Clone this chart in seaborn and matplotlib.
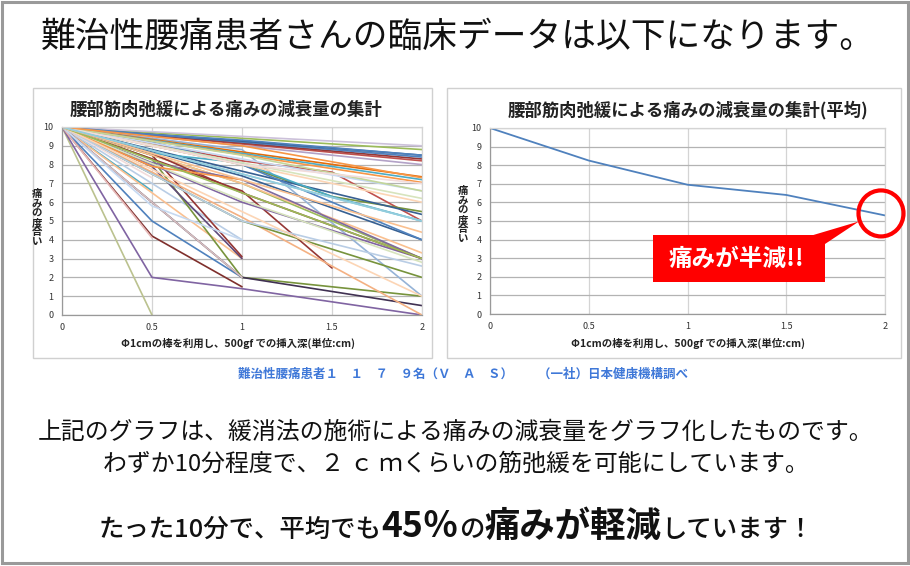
import numpy as np
import pandas as pd
import matplotlib
matplotlib.use("Agg")
import matplotlib.pyplot as plt
import seaborn as sns
from matplotlib.transforms import Affine2D
from matplotlib.patches import Rectangle, Polygon, Ellipse

N = np.nan

# ---------------- data ----------------
depth_cm = [0, 0.5, 1, 1.5, 2]
y_ticks = [0, 1, 2, 3, 4, 5, 6, 7, 8, 9, 10]
x_ticks = [0, 0.5, 1, 1.5, 2]

steep_values = [
    [10, 0, N, N, N],
    [10, 2, 1.4, N, 0],
    [10, 4.2, 1.5, N, N],
    [10, 5, 2, N, N],
    [10, 4.1, N, N, N],
    [10, 6.6, N, N, N],
    [10, 6.5, 3, N, N],
    [10, 7, 4, N, N],
    [10, 8.3, 2, N, 1],
    [10, 7.9, 3, N, N],
    [10, N, 2, N, 0.5],
    [10, 8.5, 3.1, N, N],
    [10, 6, 2, N, N],
    [10, 5.8, 4, N, N],
]
steep_colors = ["#BBC28F", "#8064A2", "#7F2F2C", "#4F81BD", "#E6B9B8", "#4BACC6",
                "#FAC090", "#B9CDE5", "#77933C", "#5F497A", "#403152", "#943634",
                "#D8C0C0", "#C6D9F1"]

middle_values = [
    [10, N, 6.6, 2.5, N],
    [10, N, 8.8, N, 1],
    [10, N, 5.2, N, 0],
    [10, N, 5, N, 2],
    [10, N, 7, N, 3],
    [10, N, 6, N, 3],
    [10, N, 7.4, N, 4],
    [10, N, 7, N, 3.3],
    [10, N, 8.2, 7.6, 5],
    [10, N, 8, 6.3, 5.5],
    [10, 8.8, N, N, 5.35],
    [10, 8.1, 7.2, N, 3],
    [10, 8.6, 6.5, N, 3],
    [10, N, 6.1, N, 2.8],
    [10, 7.3, N, N, N],
    [10, 9.2, 8, N, 4],
    [10, 7.9, 7.2, N, N],
    [10, 8.6, 8.1, 6.3, 5],
    [10, N, 5, N, 2.6],
    [10, N, N, N, 1.0],
    [10, N, N, N, 3.0],
    [10, N, N, N, 4.4],
]
middle_colors = ["#953735", "#95B3D7", "#F4B183", "#77933C", "#9BBB59", "#8064A2",
                 "#376092", "#FAC090", "#C0504D", "#77933C", "#376092", "#7F6A9F",
                 "#953735", "#D7E4BD", "#F2DCDB", "#4F81BD", "#F79646", "#4BACC6",
                 "#B9CDE5", "#FCD5B5", "#9BBB59", "#FAC090"]

gentle_values = [
    [10, N, N, N, 5.0],
    [10, N, N, N, 6.2],
    [10, N, N, N, 6.0],
    [10, N, N, N, 6.6],
    [10, N, N, N, 7.35],
    [10, N, N, N, 7.2],
    [10, N, N, N, 7.05],
    [10, N, N, N, 8.0],
    [10, N, N, N, 8.2],
    [10, N, N, N, 8.3],
    [10, N, N, N, 8.4],
    [10, N, N, N, 8.5],
    [10, N, N, N, 8.8],
    [10, N, N, N, 9.0],
    [10, 10, 10, N, N],
    [10, 9.6, 9.3, N, 8.5],
    [10, N, 8.5, N, 6.6],
    [10, 9.0, 8.0, N, 7.0],
    [10, N, 9.0, N, 7.3],
    [10, N, 7.5, N, 5.0],
]
gentle_colors = ["#93CDDD", "#D7E4BD", "#FCD5B5", "#C6D9F1", "#E46C0A", "#4BACC6",
                 "#F79646", "#B3A2C7", "#C0504D", "#953735", "#4F81BD", "#376092",
                 "#9BBB59", "#CCC1DA", "#C0504D", "#4F81BD", "#C3D69B", "#F2DCDB",
                 "#F79646", "#93CDDD"]

avg_values = [10, 8.25, 6.95, 6.4, 5.3]

main_title = "難治性腰痛患者さんの臨床データは以下になります。"
left_title = "腰部筋肉弛緩による痛みの減衰量の集計"
right_title = "腰部筋肉弛緩による痛みの減衰量の集計(平均)"
x_label = "Φ1cmの棒を利用し、500gf での挿入深(単位:cm)"
y_label = "痛みの度合い"
callout_text = "痛みが半減!!"
caption = "難治性腰痛患者１　１　７　９名（Ｖ　Ａ　Ｓ）　　（一社）日本健康機構調べ"
body_line1 = "上記のグラフは、緩消法の施術による痛みの減衰量をグラフ化したものです。"
body_line2 = "わずか10分程度で、２ ｃ ｍくらいの筋弛緩を可能にしています。"
summary_parts = ["たった10分で、平均でも", "45％", "の", "痛みが軽減", "しています！"]
summary_big = [False, True, False, True, False]

# ---------------- build tables ----------------
all_values = steep_values + middle_values + gentle_values
all_colors = steep_colors + middle_colors + gentle_colors
rows = []
for i, vals in enumerate(all_values):
    for x, v in zip(depth_cm, vals):
        rows.append({"series": f"s{i:02d}", "depth": x, "pain": v})
df_left = pd.DataFrame(rows).dropna()
palette = {f"s{i:02d}": c for i, c in enumerate(all_colors)}
df_avg = pd.DataFrame({"depth": depth_cm, "pain": avg_values})

# ---------------- figure ----------------
sns.set_theme(style="white")
plt.rcParams["font.family"] = ["Noto Sans CJK JP", "DejaVu Sans"]

W, H = 910, 566
fig = plt.figure(figsize=(W / 100, H / 100), dpi=100)
fig.patch.set_facecolor("white")
pxT = Affine2D().scale(1 / W, -1 / H).translate(0, 1) + fig.transFigure


def ax_rect(l, t, r, b):
    return [l / W, 1 - b / H, (r - l) / W, (b - t) / H]


ax1 = fig.add_axes(ax_rect(62, 127, 422, 315))
ax2 = fig.add_axes(ax_rect(490, 128, 885, 314))

sns.lineplot(data=df_left, x="depth", y="pain", hue="series", palette=palette,
             estimator=None, sort=False, legend=False, linewidth=1.2, ax=ax1)
sns.lineplot(data=df_avg, x="depth", y="pain", color="#4F81BD",
             estimator=None, sort=False, legend=False, linewidth=1.3, ax=ax2)

for ax in (ax1, ax2):
    ax.set_xlim(0, 2)
    ax.set_ylim(0, 10)
    ax.set_xticks(x_ticks)
    ax.set_xticklabels([f"{t:g}" for t in x_ticks])
    ax.set_yticks(y_ticks)
    ax.set_xlabel("")
    ax.set_ylabel("")
    ax.set_axisbelow(True)
    ax.grid(True, axis="y", color="#b3b3b3", linewidth=0.9)
    ax.grid(True, axis="x", color="#d4d4d4", linewidth=0.9)
    ax.tick_params(axis="both", labelsize=6.5, colors="#333333", length=3,
                   width=0.8, pad=3)
    ax.tick_params(axis="x", length=0, pad=6)
    ax.tick_params(axis="y", color="#999999")
    for s in ("left", "bottom"):
        ax.spines[s].set_color("#999999")
        ax.spines[s].set_linewidth(0.9)
    for s in ("top", "right"):
        ax.spines[s].set_color("#d4d4d4")
        ax.spines[s].set_linewidth(0.9)
    ax.set_facecolor("white")

# panel frames
fig.add_artist(Rectangle((33, 88), 399, 270, transform=pxT, fill=False,
                         edgecolor="#d0d0d0", linewidth=1.0))
fig.add_artist(Rectangle((447, 88), 454, 270, transform=pxT, fill=False,
                         edgecolor="#d0d0d0", linewidth=1.0))
# outer frame
fig.add_artist(Rectangle((1.5, 1.5), 906, 561, transform=pxT, fill=False,
                         edgecolor="#9a9a9a", linewidth=2.2))

# titles
fig.text(458, 37, main_title, transform=pxT, ha="center", va="center",
         fontsize=25, color="#111111")
fig.text(226, 110, left_title, transform=pxT, ha="center", va="center",
         fontsize=12.5, fontweight="bold", color="#222222")
fig.text(688, 110, right_title, transform=pxT, ha="center", va="center",
         fontsize=12.5, fontweight="bold", color="#222222")
for cx in (238, 688):
    fig.text(cx, 343, x_label, transform=pxT, ha="center", va="center",
             fontsize=7.5, fontweight="bold", color="#222222")
for cx, cy in ((37, 218), (463, 215)):
    fig.text(cx, cy, "\n".join(y_label), transform=pxT, ha="center", va="center",
             fontsize=7.5, fontweight="bold", color="#222222", linespacing=0.95)

# callout: circle around final mean point, pointer and red box
px_last = ax2.transData.transform((depth_cm[-1], avg_values[-1]))
cx, cy = px_last[0] - 4, H - px_last[1] - 2
fig.add_artist(Ellipse((cx, cy), 45, 46, transform=pxT, fill=False,
                       edgecolor="#ff0000", linewidth=3.0, zorder=10))
fig.add_artist(Polygon([(810, 236), (825, 244), (cx - 22, cy + 8)], closed=True,
                       transform=pxT, facecolor="#ff0000", edgecolor="none", zorder=10))
fig.add_artist(Rectangle((653, 235), 172, 47, transform=pxT, facecolor="#ff0000",
                         edgecolor="none", zorder=10))
fig.text(736, 259, callout_text, transform=pxT, ha="center", va="center",
         fontsize=17, fontweight="bold", color="white", zorder=11)

# caption
fig.text(238, 374, caption, transform=pxT, ha="left", va="center",
         fontsize=9, fontweight="bold", color="#3f78d8")

# body text
fig.text(456, 432, body_line1, transform=pxT, ha="center", va="center",
         fontsize=17.2, color="#111111")
fig.text(456, 464, body_line2, transform=pxT, ha="center", va="center",
         fontsize=17.2, color="#111111")

# summary line composed from segments
fig.canvas.draw()
renderer = fig.canvas.get_renderer()
texts = []
for part, big in zip(summary_parts, summary_big):
    t = fig.text(0, 537, part, transform=pxT, ha="left", va="baseline",
                 fontsize=25.5 if big else 18.3,
                 fontweight="bold" if big else "medium", color="#111111")
    texts.append(t)
widths = [t.get_window_extent(renderer).width for t in texts]
x0 = 456 - sum(widths) / 2
for t, w in zip(texts, widths):
    t.set_x(x0)
    x0 += w

fig.savefig("out.png", dpi=100)
